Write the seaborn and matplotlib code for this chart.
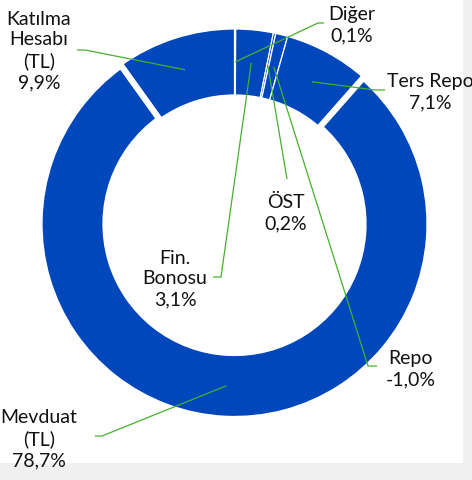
import numpy as np
import matplotlib
matplotlib.use("Agg")
import matplotlib.pyplot as plt
import seaborn as sns
from matplotlib.patches import Rectangle

sns.set_theme(style="white")
plt.rcParams['font.family'] = ['Lato', 'DejaVu Sans']

# Data (clockwise from 12 o'clock)
categories = ["Diğer", "Fin. Bonosu", "ÖST", "Repo", "Ters Repo", "Mevduat (TL)", "Katılma Hesabı (TL)"]
values = [0.1, 3.1, 0.2, -1.0, 7.1, 78.7, 9.9]
labels = ["Diğer\n0,1%", "Fin.\nBonosu\n3,1%", "ÖST\n0,2%", "Repo\n-1,0%",
          "Ters Repo\n7,1%", "Mevduat\n(TL)\n78,7%", "Katılma\nHesabı\n(TL)\n9,9%"]

BLUE = "#0047BB"
GREEN = "#45B02C"
W, H = 472, 480

fig = plt.figure(figsize=(W / 100, H / 100), dpi=100)
fig.patch.set_facecolor("#F0F0F0")
ax = fig.add_axes([0, 0, 1, 1])
ax.set_facecolor("none")

def P(x, y):
    return (x, H - y)

cx, cy = P(234.5, 224)
R_out, R_in = 195, 129

sizes = [abs(v) for v in values]
wedges, _ = ax.pie(sizes, colors=[BLUE] * len(sizes), startangle=90, counterclock=False,
                   center=(cx, cy), radius=R_out,
                   wedgeprops=dict(width=R_out - R_in, edgecolor="white", linewidth=0.9))
for w in wedges:
    w.set_zorder(2)
# thick gaps around Mevduat
wedges[5].set_linewidth(4.5)
wedges[5].set_zorder(3)

ax.set_xlim(0, W)
ax.set_ylim(0, H)
ax.set_aspect("equal")
ax.axis("off")
ax.add_patch(Rectangle(P(0, 463), 463, 463, facecolor="white", edgecolor="none", zorder=0))

# label positions (pixel coords, top-left origin): text center, elbow, end
layout = {
    0: dict(text=(352, 25), elbow=(318, 23), end=(324, 23)),
    1: dict(text=(175, 279), elbow=(221, 277), end=(213, 277)),
    2: dict(text=(286, 213), elbow=(287, 179), end=(287, 179)),
    3: dict(text=(411, 369), elbow=(368, 366), end=(377, 366)),
    4: dict(text=(430, 92), elbow=(375, 90), end=(385, 90)),
    5: dict(text=(39, 439), elbow=(102, 436), end=(95, 436)),
    6: dict(text=(39, 51), elbow=(85, 50), end=(77, 50)),
}

r_mid = (R_out + R_in) / 2
for i, w in enumerate(wedges):
    ang = np.deg2rad((w.theta1 + w.theta2) / 2)
    ax_, ay_ = cx + r_mid * np.cos(ang), cy + r_mid * np.sin(ang)
    L = layout[i]
    ex, ey = P(*L["elbow"])
    nx, ny = P(*L["end"])
    ax.plot([ax_, ex, nx], [ay_, ey, ny], color=GREEN, lw=0.9, zorder=5,
            solid_capstyle="butt")
    tx, ty = P(*L["text"])
    ax.text(tx, ty, labels[i], ha="center", va="center", fontsize=14,
            linespacing=1.28, color="#111111", zorder=6)

fig.savefig("out.png", dpi=100, facecolor=fig.get_facecolor())
